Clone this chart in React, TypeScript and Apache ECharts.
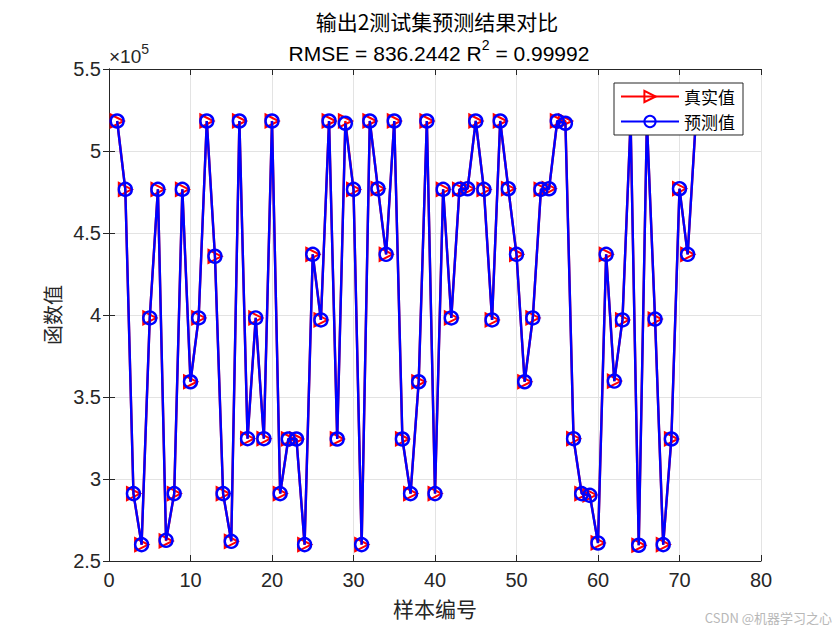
import React, { useEffect, useRef } from "react";
import * as echarts from "echarts";

const sampleIndex: number[] = Array.from({ length: 72 }, (_, i) => i + 1);

const trueValues: number[] = [
  518300, 476600, 291100, 260000, 398200, 476600, 262200, 291100, 476600, 359300,
  398200, 518300, 435800, 291100, 262000, 518300, 324600, 398200, 324600, 518300,
  291100, 324400, 324400, 260000, 437000, 397000, 518300, 324400, 518300, 476600,
  260000, 518300, 477000, 437000, 518300, 324400, 291100, 359300, 518300, 291100,
  476600, 398200, 476600, 477000, 518300, 476600, 397000, 518300, 477000, 437000,
  359300, 398200, 476600, 477000, 518300, 518300, 324600, 291100, 290300, 261000,
  437000, 359700, 397000, 518300, 259600, 518300, 397500, 260000, 324400, 477000,
  437000, 518300,
];

const predValues: number[] = [
  518300, 476600, 291100, 260000, 398200, 476600, 262600, 291100, 476600, 359300,
  398200, 518300, 435800, 291100, 262000, 518300, 324600, 398200, 324600, 518300,
  291100, 324400, 324400, 260000, 437000, 397000, 518300, 324400, 516900, 476600,
  260000, 518300, 477000, 437000, 518300, 324400, 291100, 359300, 518300, 291100,
  476600, 398200, 476600, 477000, 518300, 476600, 397000, 518300, 477000, 437000,
  359300, 398200, 476600, 477000, 518300, 516900, 324600, 291100, 290000, 261000,
  437000, 359700, 397000, 518300, 259600, 518300, 397500, 260000, 324400, 477000,
  437000, 518300,
];

const xTicks = { min: 0, max: 80, interval: 10 };
const yTicks = { min: 250000, max: 550000, interval: 50000 };

const titleLine1 = "输出2测试集预测结果对比";
const rmseText = "RMSE = 836.2442 R";
const r2Text = " = 0.99992";
const legendNames = ["真实值", "预测值"];
const xName = "样本编号";
const yName = "函数值";
const watermark = "CSDN @机器学习之心";

const AXIS = "#262626";
const GRID = "#e3e3e3";
const SANS = "'Liberation Sans', Arial, sans-serif";
const CJK = "'Noto Sans CJK SC', sans-serif";

export default function App() {
  const ref = useRef<HTMLDivElement>(null);
  useEffect(() => {
    if (!ref.current) return;
    const chart = echarts.init(ref.current, null, { renderer: "svg" });
    const trueData = sampleIndex.map((x, i) => [x, trueValues[i]]);
    const predData = sampleIndex.map((x, i) => [x, predValues[i]]);
    const hiddenAxisCommon = {
      axisLine: { show: true, lineStyle: { color: AXIS, width: 1 } },
      axisTick: { show: true, inside: true, length: 6, lineStyle: { color: AXIS } },
      axisLabel: { show: false },
      splitLine: { show: false },
    };
    chart.setOption({
      animation: false,
      backgroundColor: "#ffffff",
      title: [
        {
          text: titleLine1,
          left: 432,
          top: 5,
          textAlign: "center",
          textStyle: { fontFamily: CJK, fontSize: 21, fontWeight: "normal", color: "#000" },
        },
        {
          text: `{a|${rmseText}}{s|2}{a|${r2Text}}`,
          left: 434,
          top: 33,
          textAlign: "center",
          textStyle: {
            fontWeight: "normal",
            rich: {
              a: { fontFamily: SANS, fontSize: 21, fontWeight: "normal", color: "#000", verticalAlign: "bottom", lineHeight: 26 },
              s: { fontFamily: SANS, fontSize: 14, fontWeight: "normal", color: "#000", verticalAlign: "top", lineHeight: 26, padding: [0, 0, 10, 0] },
            },
          },
        },
      ],
      grid: { left: 109, right: 79, top: 69, bottom: 69, containLabel: false },
      legend: {
        orient: "vertical",
        right: 97,
        top: 83,
        data: legendNames,
        backgroundColor: "#fff",
        borderColor: AXIS,
        borderWidth: 1,
        borderRadius: 0,
        padding: [5, 8, 5, 6],
        itemWidth: 58,
        itemHeight: 14,
        itemGap: 8,
        textStyle: { fontFamily: CJK, fontSize: 17, color: "#000" },
      },
      xAxis: [
        {
          type: "value",
          min: xTicks.min,
          max: xTicks.max,
          interval: xTicks.interval,
          name: xName,
          nameLocation: "middle",
          nameGap: 36,
          nameTextStyle: { fontFamily: CJK, fontSize: 21, color: AXIS },
          axisLine: { show: true, onZero: false, lineStyle: { color: AXIS, width: 1 } },
          axisTick: { show: true, inside: true, length: 6, lineStyle: { color: AXIS } },
          axisLabel: { fontFamily: SANS, fontSize: 20, color: AXIS, margin: 9 },
          splitLine: { show: true, lineStyle: { color: GRID, width: 1 } },
        },
        {
          type: "value",
          position: "top",
          min: xTicks.min,
          max: xTicks.max,
          interval: xTicks.interval,
          ...hiddenAxisCommon,
        },
      ],
      yAxis: [
        {
          type: "value",
          min: yTicks.min,
          max: yTicks.max,
          interval: yTicks.interval,
          name: yName,
          nameLocation: "middle",
          nameGap: 34,
          nameTextStyle: { fontFamily: CJK, fontSize: 20, color: AXIS },
          axisLine: { show: true, onZero: false, lineStyle: { color: AXIS, width: 1 } },
          axisTick: { show: true, inside: true, length: 6, lineStyle: { color: AXIS } },
          axisLabel: {
            fontFamily: SANS,
            fontSize: 20,
            color: AXIS,
            margin: 8,
            formatter: (v: number) => String(v / 100000),
          },
          splitLine: { show: true, lineStyle: { color: GRID, width: 1 } },
        },
        {
          type: "value",
          position: "right",
          min: yTicks.min,
          max: yTicks.max,
          interval: yTicks.interval,
          ...hiddenAxisCommon,
        },
      ],
      graphic: [
        {
          type: "text",
          left: 109,
          top: 42,
          style: {
            text: "{a|×10}{s|5}",
            rich: {
              a: { fontFamily: SANS, fontSize: 19, fill: AXIS, verticalAlign: "bottom", lineHeight: 24 },
              s: { fontFamily: SANS, fontSize: 14, fill: AXIS, verticalAlign: "top", lineHeight: 24, padding: [0, 0, 10, 0] },
            },
          },
        },
        {
          type: "text",
          right: 8,
          bottom: 6,
          style: { text: watermark, fontFamily: CJK, fontSize: 13, fill: "#b8b8b8" },
        },
      ],
      series: [
        {
          name: legendNames[0],
          type: "line",
          data: trueData,
          symbol: "triangle",
          symbolRotate: -90,
          symbolSize: 13,
          showAllSymbol: true,
          lineStyle: { color: "#ff0000", width: 2.4 },
          itemStyle: { color: "rgba(255,255,255,0)", borderColor: "#ff0000", borderWidth: 2 },
          emphasis: { disabled: true },
          z: 2,
        },
        {
          name: legendNames[1],
          type: "line",
          data: predData,
          symbol: "circle",
          symbolSize: 13,
          showAllSymbol: true,
          lineStyle: { color: "#0000ff", width: 2.4 },
          itemStyle: { color: "rgba(255,255,255,0)", borderColor: "#0000ff", borderWidth: 2.4 },
          emphasis: { disabled: true },
          z: 3,
        },
      ],
    });
    return () => chart.dispose();
  }, []);
  return (
    <div
      ref={ref}
      style={{ position: "fixed", left: 0, top: 0, width: 840, height: 630, background: "#fff" }}
    />
  );
}
